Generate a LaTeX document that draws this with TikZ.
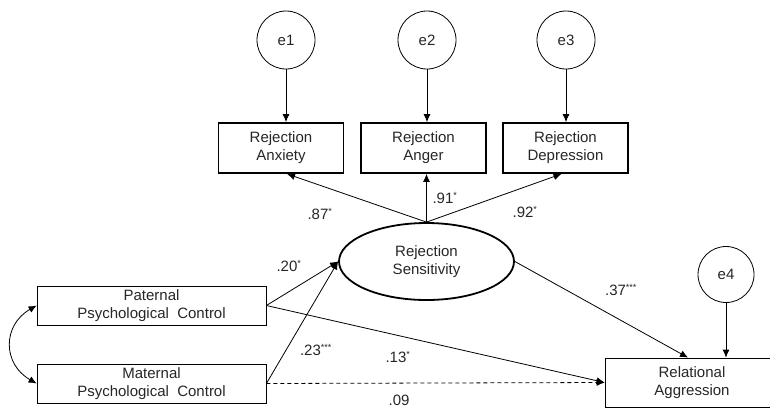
\documentclass[tikz,border=0pt]{standalone}
\usepackage{fontspec}
\setmainfont{Liberation Sans}
\usetikzlibrary{%
  arrows.meta,%
  shapes.geometric,%
  positioning%
}
\newcommand{\sigst}[1]{\textsuperscript{\fontsize{9}{9}\selectfont#1}}
\tikzset{%
  errc/.style={draw,circle,line width=0.8pt,minimum size=58pt,inner sep=0pt},
  indbox/.style={draw,line width=1.8pt,minimum width=125pt,minimum height=50pt,align=center,inner sep=0pt},
  varbox/.style={draw,line width=0.8pt,minimum width=229pt,minimum height=39pt,align=center,inner sep=0pt},
  latent/.style={draw,ellipse,line width=1.8pt,minimum width=175pt,minimum height=77pt,align=center,inner sep=0pt},
  coef/.style={inner sep=0pt},
  eff/.style={line width=0.8pt,-{Latex[length=8pt,width=7pt]}},
  coveff/.style={line width=0.8pt,{Latex[length=8pt,width=7pt]}-{Latex[length=8pt,width=7pt]}}
}

\begin{document}
\begin{tikzpicture}[x=1pt,y=-1pt,font=\fontsize{15}{18}\selectfont,text=black!85]
    \useasboundingbox (0,0) rectangle (770,408);
    \node[errc] (e1) at (286,40) {e1};
    \node[errc] (e2) at (427,40) {e2};
    \node[errc] (e3) at (566,40) {e3};
    \node[errc,minimum size=56pt] (e4) at (726,274.5) {e4};
    \node[indbox] (anx) at (281,148) {Rejection\\Anxiety};
    \node[indbox] (ang) at (423.5,148) {Rejection\\Anger};
    \node[indbox] (dep) at (565.5,148) {Rejection\\Depression};
    \node[latent] (rs) at (426.5,261.5) {Rejection\\Sensitivity};
    \node[varbox] (pat) at (151.5,305.5) {Paternal\\Psychological\ \ Control};
    \node[varbox] (mat) at (151.5,383.5) {Maternal\\Psychological\ \ Control};
    \node[varbox,minimum width=174pt,minimum height=49pt] (rel) at (692,382.5)
    {Relational\\Aggression};
    \draw[eff] (e1) -- (e1 |- anx.north);
    \draw[eff] (e2) -- (e2 |- ang.north);
    \draw[eff] (e3) -- (e3 |- dep.north);
    \draw[eff] (e4) -- (e4 |- rel.north);
    \draw[eff] (rs.north) -- ([xshift=6pt]anx.south);
    \draw[eff] (rs.north) -- (rs.north |- ang.south);
    \draw[eff] (rs.north) -- ([xshift=-4pt]dep.south);
    \draw[eff] (pat.east) -- (rs.west);
    \draw[eff] (mat.east) -- (rs.west);
    \draw[eff] (rs.east) -- ([xshift=-4pt]rel.north);
    \draw[eff] (pat.east) -- (rel.west);
    \draw[eff,dash pattern=on 4pt off 3pt] (mat.east) -- (rel.west);
    \draw[coveff] (pat.west) to[bend right=60,looseness=1.3] (mat.west);
    \node[coef] (c1) at (320,214) {.87\sigst{*}};
    \node[coef] (c2) at (445,198) {.91\sigst{*}};
    \node[coef] (c3) at (525,212) {.92\sigst{*}};
    \node[coef] (c4) at (289,266) {.20\sigst{*}};
    \node[coef] (c5) at (316,350) {.23\sigst{***}};
    \node[coef] (c6) at (398,357) {.13\sigst{*}};
    \node[coef] (c7) at (399,400) {.09};
    \node[coef] (c8) at (621,290) {.37\sigst{***}};
\end{tikzpicture}
\end{document}
